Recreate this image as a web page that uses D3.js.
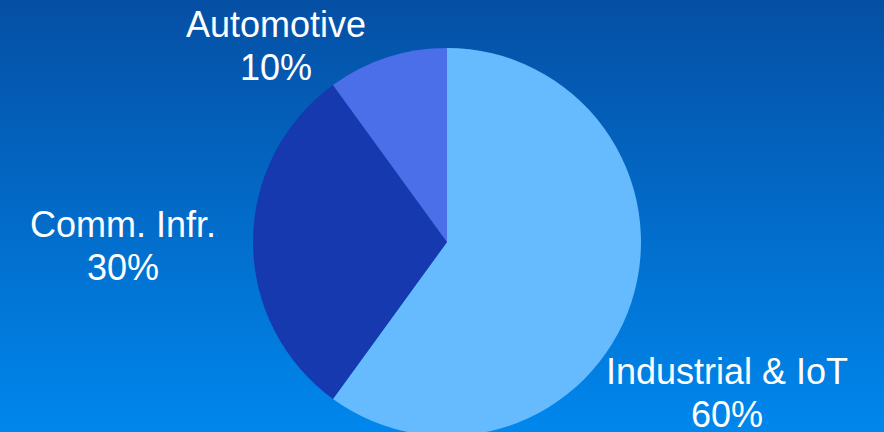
<!DOCTYPE html>
<html>
<head>
<meta charset="utf-8">
<title>Revenue split</title>
<script src="https://cdn.jsdelivr.net/npm/d3@7/dist/d3.min.js"></script>
<style>
  html, body { margin: 0; padding: 0; overflow: hidden; }
  text { font-family: "Liberation Sans", Arial, sans-serif; fill: #fff; }
</style>
</head>
<body>
<div id="chart"></div>
<script>
  // data
  var segments = ["Industrial & IoT", "Comm. Infr.", "Automotive"];
  var shares = [60, 30, 10];
  var sliceColors = ["#66bbff", "#1639b0", "#4a6fe8"];

  var width = 884, height = 432;
  var cx = 447, cy = 242, radius = 194;
  // where each label block is centred (first line baseline)
  var labelAnchors = [[727, 384], [123, 237], [276, 37]];

  var svg = d3.select("#chart").append("svg")
    .attr("width", width)
    .attr("height", height);

  var grad = svg.append("defs").append("linearGradient")
    .attr("id", "bg").attr("x1", 0).attr("y1", 0).attr("x2", 0).attr("y2", 1);
  grad.append("stop").attr("offset", "0%").attr("stop-color", "#054fa4");
  grad.append("stop").attr("offset", "100%").attr("stop-color", "#0087ed");

  svg.append("rect")
    .attr("width", width).attr("height", height)
    .attr("fill", "url(#bg)");

  var pie = d3.pie().sort(null)(shares);
  var arc = d3.arc().innerRadius(0).outerRadius(radius);

  var g = svg.append("g").attr("transform", "translate(" + cx + "," + cy + ")");
  g.selectAll("path").data(pie).enter().append("path")
    .attr("d", arc)
    .attr("fill", function(d, i) { return sliceColors[i]; });

  // labels: name on first line, percent below
  var labels = svg.selectAll("text.lbl").data(segments).enter().append("text")
    .attr("class", "lbl")
    .attr("text-anchor", "middle")
    .style("font-size", "36px");
  labels.append("tspan")
    .attr("x", function(d, i) { return labelAnchors[i][0]; })
    .attr("y", function(d, i) { return labelAnchors[i][1]; })
    .text(function(d) { return d; });
  labels.append("tspan")
    .attr("x", function(d, i) { return labelAnchors[i][0]; })
    .attr("y", function(d, i) { return labelAnchors[i][1] + 43; })
    .text(function(d, i) { return shares[i] + "%"; });
</script>
</body>
</html>
